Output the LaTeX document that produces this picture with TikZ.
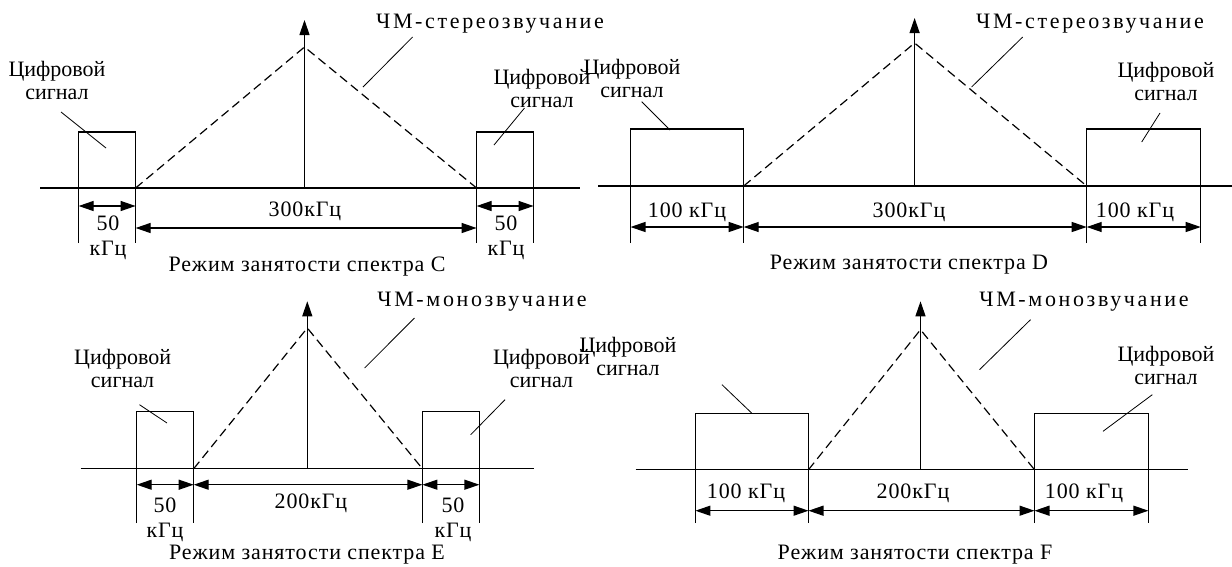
\documentclass[tikz,border=0pt]{standalone}
\usepackage{fontspec}
\setmainfont{Liberation Serif}
\newfontfamily\fmfont[LetterSpace=12]{Liberation Serif}
\newfontfamily\dimfont[LetterSpace=4]{Liberation Serif}
\usepackage{tikz}
\usetikzlibrary{arrows.meta, calc}

\begin{document}
\begin{tikzpicture}[
    x=1pt, y=-1pt,
    line width=1.2pt,
    font=\fontsize{22}{23}\selectfont,
    >={Triangle[length=15pt, width=10pt]},
    lbl/.style={align=center, inner sep=0pt},
    dimlbl/.style={lbl, font=\fontsize{22}{25}\selectfont\dimfont},
    fmlbl/.style={lbl, font=\fontsize{22}{23}\selectfont\fmfont},
    fmline/.style={dash pattern=on 9pt off 5pt},
    leader/.style={line width=0.8pt},
    dim/.style={<->}
]
    \useasboundingbox (0,0) rectangle (1232,566);

    % ---------------- Spectrum mode C ----------------
    \coordinate (c0) at (40,188);  \coordinate (c9) at (580,188);
    \coordinate (cl2) at (135.6,188); \coordinate (cr1) at (476.6,188);
    \coordinate (cmid) at (304.5,188); \coordinate (ctip) at (304.5,20);
    \coordinate (capex) at (304.5,47);
    \draw (c0) -- (c9);
    \draw[->] (cmid) -- (ctip);
    \draw[fmline] (cl2) -- (capex) -- (cr1);
    \draw (78.6,243) -- (78.6,132) -- (135.6,132) -- (135.6,243);
    \draw (476.6,243) -- (476.6,132) -- (533.6,132) -- (533.6,243);
    \draw[dim] (78.6,206) -- (135.6,206);
    \draw[dim] (135.6,228) -- (476.6,228);
    \draw[dim] (476.6,206) -- (533.6,206);

    \node[dimlbl] (cwl) at (108,238) {50\\кГц};
    \node[dimlbl] (cwm) at (305,211) {300кГц};
    \node[dimlbl] (cwr) at (506,238) {50\\кГц};
    \node[dimlbl] (capC) at (307,267) {Режим занятости спектра C};
    \node[fmlbl] (fmC) at (490,24) {ЧМ-стереозвучание};
    \node[lbl] (digCL) at (57,80) {Цифровой\\сигнал};
    \node[lbl] (digCR) at (542,88) {Цифровой\\сигнал};
    \coordinate (fmCa) at (412.6,37);  \coordinate (fmCb) at (363,87);
    \coordinate (dgCa) at (61,112);    \coordinate (dgCb) at (106,148);
    \coordinate (dgCc) at (524.5,108); \coordinate (dgCd) at (494,145);
    \draw[leader] (fmCa) -- (fmCb);
    \draw[leader] (dgCa) -- (dgCb);
    \draw[leader] (dgCc) -- (dgCd);

    % ---------------- Spectrum mode D ----------------
    \coordinate (d0) at (598,186);  \coordinate (d9) at (1232,186);
    \coordinate (dl2) at (743.7,186); \coordinate (dr1) at (1086.7,186);
    \coordinate (dmid) at (914.6,186); \coordinate (dtip) at (914.6,18);
    \coordinate (dapex) at (914.6,43);
    \draw (d0) -- (d9);
    \draw[->] (dmid) -- (dtip);
    \draw[fmline] (dl2) -- (dapex) -- (dr1);
    \draw (630.5,243) -- (630.5,129) -- (743.7,129) -- (743.7,243);
    \draw (1086.7,243) -- (1086.7,129) -- (1200.7,129) -- (1200.7,243);
    \draw[dim] (630.5,227) -- (743.7,227);
    \draw[dim] (743.7,227) -- (1086.7,227);
    \draw[dim] (1086.7,227) -- (1200.7,227);

    \node[dimlbl] (dwl) at (687,212) {100 кГц};
    \node[dimlbl] (dwm) at (909,212) {300кГц};
    \node[dimlbl] (dwr) at (1135,212) {100 кГц};
    \node[dimlbl] (capD) at (909,265) {Режим занятости спектра D};
    \node[fmlbl] (fmD) at (1090,24) {ЧМ-стереозвучание};
    \node[lbl] (digDL) at (632,78) {Цифровой\\сигнал};
    \node[lbl] (digDR) at (1166,81) {Цифровой\\сигнал};
    \coordinate (fmDa) at (1022.7,37);  \coordinate (fmDb) at (971.6,87);
    \coordinate (dgDa) at (641.7,101.7); \coordinate (dgDb) at (670,130);
    \coordinate (dgDc) at (1160,113);   \coordinate (dgDd) at (1141.7,142);
    \draw[leader] (fmDa) -- (fmDb);
    \draw[leader] (dgDa) -- (dgDb);
    \draw[leader] (dgDc) -- (dgDd);

    % ---------------- Spectrum mode E ----------------
    \coordinate (e0) at (80.5,468.7);  \coordinate (e9) at (534.4,468.7);
    \coordinate (el2) at (193.7,468.7); \coordinate (er1) at (422.4,468.7);
    \coordinate (emid) at (307.3,468.7); \coordinate (etip) at (307.3,301.3);
    \coordinate (eapex) at (307.3,328);
    \draw (e0) -- (e9);
    \draw[->] (emid) -- (etip);
    \draw[fmline] (el2) -- (eapex) -- (er1);
    \draw (136.7,523) -- (136.7,411.3) -- (193.7,411.3) -- (193.7,523);
    \draw (422.4,523) -- (422.4,411.3) -- (479.4,411.3) -- (479.4,523);
    \draw[dim] (136.7,484.7) -- (193.7,484.7);
    \draw[dim] (193.7,484.7) -- (422.4,484.7);
    \draw[dim] (422.4,484.7) -- (479.4,484.7);

    \node[dimlbl] (ewl) at (165,520) {50\\кГц};
    \node[dimlbl] (ewm) at (311,503) {200кГц};
    \node[dimlbl] (ewr) at (453,520) {50\\кГц};
    \node[dimlbl] (capE) at (307,554.7) {Режим занятости спектра E};
    \node[fmlbl] (fmE) at (482,302) {ЧМ-монозвучание};
    \node[lbl] (digEL) at (122.6,368.8) {Цифровой\\сигнал};
    \node[lbl] (digER) at (541.5,368.8) {Цифровой\\сигнал};
    \coordinate (fmEa) at (414.5,318);   \coordinate (fmEb) at (364.6,368);
    \coordinate (dgEa) at (139.5,404.7); \coordinate (dgEb) at (167,423);
    \coordinate (dgEc) at (505,399.7);   \coordinate (dgEd) at (470.7,434.7);
    \draw[leader] (fmEa) -- (fmEb);
    \draw[leader] (dgEa) -- (dgEb);
    \draw[leader] (dgEc) -- (dgEd);

    % ---------------- Spectrum mode F ----------------
    \coordinate (f0) at (635.6,469.7);  \coordinate (f9) at (1187.7,469.7);
    \coordinate (fl2) at (808.5,469.7); \coordinate (fr1) at (1034.5,469.7);
    \coordinate (fmid) at (920.5,469.7); \coordinate (ftip) at (920.5,301.3);
    \coordinate (fapex) at (920.5,329.7);
    \draw (f0) -- (f9);
    \draw[->] (fmid) -- (ftip);
    \draw[fmline] (fl2) -- (fapex) -- (fr1);
    \draw (695.4,523) -- (695.4,413.7) -- (808.5,413.7) -- (808.5,523);
    \draw (1034.5,523) -- (1034.5,413.7) -- (1148.4,413.7) -- (1148.4,523);
    \draw[dim] (695.4,510.7) -- (808.5,510.7);
    \draw[dim] (808.5,510.7) -- (1034.5,510.7);
    \draw[dim] (1034.5,510.7) -- (1148.4,510.7);

    \node[dimlbl] (fwl) at (746,493) {100 кГц};
    \node[dimlbl] (fwm) at (913,493) {200кГц};
    \node[dimlbl] (fwr) at (1084,493) {100 кГц};
    \node[dimlbl] (capF) at (915,554.7) {Режим занятости спектра F};
    \node[fmlbl] (fmF) at (1084,302) {ЧМ-монозвучание};
    \node[lbl] (digFL) at (628,356) {Цифровой\\сигнал};
    \node[lbl] (digFR) at (1166,365.5) {Цифровой\\сигнал};
    \coordinate (fmFa) at (1030.5,319.7); \coordinate (fmFb) at (979.5,369.7);
    \coordinate (dgFa) at (722,384.7);    \coordinate (dgFb) at (751.6,413);
    \coordinate (dgFc) at (1152.3,394.7); \coordinate (dgFd) at (1103,431.3);
    \draw[leader] (fmFa) -- (fmFb);
    \draw[leader] (dgFa) -- (dgFb);
    \draw[leader] (dgFc) -- (dgFd);

\end{tikzpicture}
\end{document}
